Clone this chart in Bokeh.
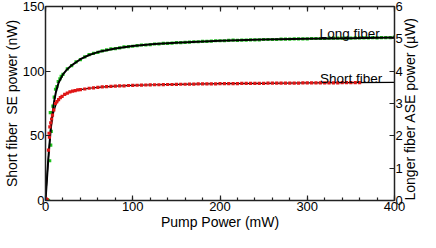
import math
from bokeh.plotting import figure
from bokeh.models import Range1d, LinearAxis, SingleIntervalTicker, Label
from bokeh.embed import file_html
from bokeh.resources import INLINE

# ---------------- data ----------------
fit_x = [0, 1, 2, 3, 4, 5, 6, 7, 8, 10, 12, 15, 20, 25, 30, 40, 50, 60, 80, 100,
         125, 150, 200, 250, 300, 350, 400]
short_fit_nW = [0, 10, 20, 30, 39, 47, 55, 60, 64, 70, 74, 78, 81, 83, 84.3, 85.8,
                86.8, 87.5, 88.4, 89.0, 89.5, 89.8, 90.3, 90.6, 90.9, 91.1, 91.3]
long_fit_uW = [0, 0.40, 0.80, 1.20, 1.56, 1.88, 2.20, 2.44, 2.68, 3.08, 3.36, 3.64,
               3.90, 4.06, 4.18, 4.37, 4.50, 4.59, 4.70, 4.78, 4.84, 4.88, 4.94,
               4.98, 5.00, 5.02, 5.04]

short_x = [1, 2, 3.4, 4.1, 4.5, 5, 6, 7, 8, 9.5, 11.4, 13, 15, 17, 19, 22, 25, 28,
           31, 34, 37,
           40, 45, 50, 55, 60, 65, 70, 75, 80, 85, 90, 95, 100, 105, 110, 115, 120,
           125, 130, 135, 140, 145, 150, 155, 160, 165, 170, 175, 180, 185, 190,
           195, 200, 205, 210, 215, 220, 225, 230, 235, 240, 245, 250, 255, 260,
           265, 270, 275, 280, 285, 290, 295, 300, 305, 310, 315, 320, 325, 330,
           335, 340, 345, 350, 355, 360]
short_nW = [1, 0.5, 39, 52, 49, 57, 60, 63, 66, 70, 75, 76.5, 78, 79.5, 80.5, 82,
            83, 84, 84.5, 85, 85.5,
            85.8, 86.2, 86.8, 87.1, 87.5, 87.8, 88.0, 88.3, 88.4, 88.6, 88.7, 88.9,
            89.0, 89.1, 89.2, 89.3, 89.4, 89.5, 89.5, 89.6, 89.7, 89.7, 89.8, 89.9,
            89.9, 90.0, 90.0, 90.1, 90.1, 90.2, 90.2, 90.2, 90.3, 90.3, 90.4, 90.4,
            90.4, 90.5, 90.5, 90.5, 90.6, 90.6, 90.6, 90.7, 90.7, 90.7, 90.7, 90.8,
            90.8, 90.8, 90.8, 90.9, 90.9, 90.9, 90.9, 91.0, 91.0, 91.0, 91.0, 91.0,
            91.1, 91.1, 91.1, 91.1, 91.2]

long_x = [0.5, 1.5, 2.5, 3.5, 4.8, 6.0, 6.6, 5.5, 8.5, 10, 11.5, 13, 14.6, 16.5, 18,
          20, 25, 30, 35, 40, 45, 50, 55, 60, 65, 70, 75, 80, 85, 90, 95, 100, 105,
          110, 115, 120, 125, 130, 135, 140, 145, 150, 155, 160, 165, 170, 175, 180,
          185, 190, 195, 200, 205, 210, 215, 220, 225, 230, 235, 240, 245, 250, 255,
          260, 265, 270, 275, 280, 285, 290, 295, 300, 305, 310, 315, 320, 325, 330,
          335, 340, 345, 350, 355, 360, 365, 370, 375, 380, 385, 390, 395, 400]
long_uW = [0, 0, 0.02, 0, 1.23, 1.71, 2.14, 2.72, 2.92, 3.20, 3.44, 3.52, 3.68,
           3.76, 3.84,
           3.90, 4.07, 4.17, 4.29, 4.36, 4.44, 4.51, 4.55, 4.58, 4.63, 4.66, 4.69,
           4.70, 4.72, 4.75, 4.76, 4.77, 4.79, 4.81, 4.81, 4.82, 4.84, 4.84, 4.86,
           4.86, 4.87, 4.88, 4.88, 4.89, 4.90, 4.91, 4.91, 4.92, 4.92, 4.93, 4.94,
           4.94, 4.94, 4.95, 4.96, 4.95, 4.96, 4.96, 4.97, 4.97, 4.97, 4.98, 4.98,
           4.98, 4.98, 4.99, 4.99, 4.99, 5.00, 5.00, 5.00, 5.00, 5.01, 5.01, 5.01,
           5.01, 5.02, 5.02, 5.02, 5.02, 5.02, 5.02, 5.03, 5.03, 5.03, 5.03, 5.04,
           5.03, 5.04, 5.04, 5.04, 5.05]

x_ticks_interval = 100
left_ticks_interval = 50
right_ticks_interval = 1

# ---------------- figure ----------------
FONT = "Liberation Sans"
AX = "#222222"

p = figure(width=428, height=232, output_backend="svg", toolbar_location=None,
           x_range=Range1d(0, 400), y_range=Range1d(0, 150),
           min_border_left=36, min_border_right=20, min_border_top=6,
           min_border_bottom=0, x_axis_location=None, y_axis_location=None)
p.extra_y_ranges = {"ase": Range1d(0, 6)}
p.grid.visible = False
p.outline_line_color = None
p.background_fill_color = "white"
p.border_fill_color = "white"


def style(ax, label_size="13px"):
    ax.axis_line_color = AX
    ax.axis_line_width = 1.5
    ax.major_tick_line_color = AX
    ax.minor_tick_line_color = AX
    ax.major_tick_line_width = 1.2
    ax.minor_tick_line_width = 1.2
    ax.major_tick_in = 5
    ax.major_tick_out = 0
    ax.minor_tick_in = 3
    ax.minor_tick_out = 0
    ax.major_label_text_font = FONT
    ax.major_label_text_font_size = label_size
    ax.major_label_text_color = "black"
    ax.major_label_standoff = 1
    ax.axis_label_text_font = FONT
    ax.axis_label_text_font_size = "14px"
    ax.axis_label_text_font_style = "normal"
    ax.axis_label_text_color = "black"
    ax.axis_label_standoff = 0


xb = LinearAxis(ticker=SingleIntervalTicker(interval=x_ticks_interval, num_minor_ticks=5),
                axis_label="Pump Power (mW)")
style(xb)
p.add_layout(xb, "below")

xt = LinearAxis(ticker=SingleIntervalTicker(interval=x_ticks_interval, num_minor_ticks=5))
style(xt)
xt.major_label_overrides = {0: "", 100: "", 200: "", 300: "", 400: ""}
xt.major_label_standoff = 0
p.add_layout(xt, "above")

yl = LinearAxis(ticker=SingleIntervalTicker(interval=left_ticks_interval, num_minor_ticks=0),
                axis_label="Short fiber\u00a0 SE power (nW)")
style(yl)
p.add_layout(yl, "left")

yr = LinearAxis(y_range_name="ase",
                ticker=SingleIntervalTicker(interval=right_ticks_interval, num_minor_ticks=0),
                axis_label="Longer fiber ASE power (\u00b5W)")
style(yr)
yr.axis_label_orientation = math.pi / 2
yr.axis_label_align = "start"
yr.axis_label_standoff = 4
p.add_layout(yr, "right")

GREEN = "#1fc31f"
RED = "#e01515"

# long fiber (right axis)
p.scatter(long_x, long_uW, y_range_name="ase", marker="square", size=3.2,
          fill_color=GREEN, line_color=None)
p.line(fit_x, long_fit_uW, y_range_name="ase", line_color="black", line_width=2)

# short fiber (left axis)
p.line(fit_x, short_fit_nW, line_color="black", line_width=1.2)
p.scatter(short_x, short_nW, marker="square", size=3.2, fill_color=RED, line_color=None)

p.add_layout(Label(x=383, y=129, text="Long fiber", text_align="right",
                   text_baseline="alphabetic", text_font=FONT, text_font_size="13.5px",
                   text_color="black"))
p.add_layout(Label(x=386, y=94.5, text="Short fiber", text_align="right",
                   text_baseline="alphabetic", text_font=FONT, text_font_size="13.5px",
                   text_color="black"))

open("out.html", "w").write(file_html(p, INLINE))
